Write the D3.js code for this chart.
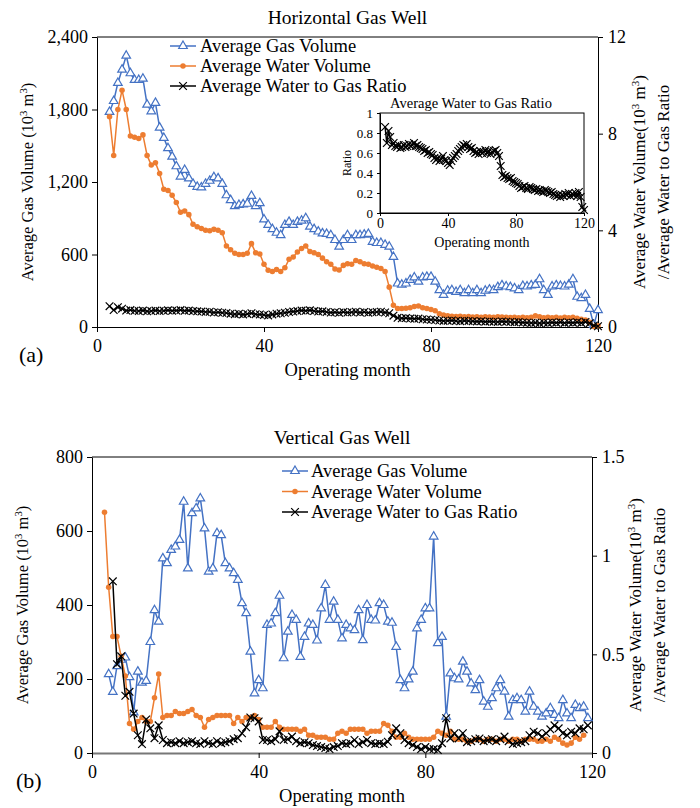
<!DOCTYPE html>
<html>
<head>
<meta charset="utf-8">
<script src="https://cdn.jsdelivr.net/npm/d3@7"></script>
<style>
  body { margin: 0; background: #fff; }
  svg text { font-family: "Liberation Serif", "Times New Roman", serif; fill: #000; }
</style>
</head>
<body>
<div id="chart"></div>
<script>
// ---- data ----
const xTicks = [0, 40, 80, 120];
const legendLabels = ["Average Gas Volume", "Average Water Volume", "Average Water to Gas Ratio"];

// (a) horizontal well, months 3..120
const hMonths = d3.range(3, 121);
const hGas = [
  1780, 1870, 2020, 2130, 2245, 2100, 2045, 2045, 2055, 1840,
  1785, 1855, 1650, 1565, 1480, 1410, 1330, 1245, 1300, 1230,
  1185, 1160, 1155, 1185, 1210, 1240, 1230, 1185, 1090, 1050,
  1000, 1010, 1015, 1020, 1085, 1000, 1025, 890, 845, 810,
  780, 760, 845, 870, 845, 870, 880, 900, 830, 810,
  790, 775, 770, 760, 720, 665, 720, 760, 720, 760,
  760, 765, 770, 705, 695, 695, 680, 665, 580, 360,
  350, 360, 390, 410, 375, 410, 415, 415, 375, 305,
  265, 300, 305, 290, 305, 280, 305, 280, 305, 280,
  300, 310, 305, 330, 345, 335, 330, 320, 305, 340,
  335, 345, 348, 395, 305, 265, 335, 345, 340, 335,
  350, 395, 250, 238, 265, 150, 17, 140
];
const hWater = [
  8.7, 7.1, 9.0, 9.8, 9.0, 7.9, 7.85, 7.8, 7.95, 7.1,
  6.7, 6.8, 6.35, 5.7, 5.65, 5.45, 5.15, 4.75, 4.8, 4.65,
  4.25, 4.15, 4.08, 4.0, 3.98, 4.04, 4.0, 3.9, 3.35, 3.2,
  3.05, 3.0, 3.0, 3.05, 3.45, 3.07, 3.02, 2.6, 2.35, 2.3,
  2.38, 2.3, 2.45, 2.8, 2.9, 3.1, 3.25, 3.35, 3.12, 3.07,
  3.0, 2.85, 2.7, 2.6, 2.4, 2.36, 2.55, 2.62, 2.6, 2.75,
  2.7, 2.62, 2.6, 2.52, 2.47, 2.42, 2.3, 1.65, 0.9, 0.77,
  0.77, 0.78, 0.8, 0.85, 0.87, 0.8, 0.77, 0.72, 0.67, 0.55,
  0.5, 0.46, 0.44, 0.43, 0.44, 0.42, 0.43, 0.41, 0.42, 0.4,
  0.42, 0.41, 0.4, 0.42, 0.41, 0.4, 0.39, 0.4, 0.38, 0.4,
  0.38, 0.4, 0.46, 0.42, 0.38, 0.4, 0.38, 0.4, 0.37, 0.4,
  0.38, 0.4, 0.36, 0.32, 0.29, 0.2, 0.02, 0.05
];
const hRatio = [
  0.86, 0.70, 0.82, 0.76, 0.68, 0.70, 0.67, 0.66, 0.68, 0.65,
  0.66, 0.68, 0.66, 0.67, 0.69, 0.67, 0.68, 0.70, 0.67, 0.68,
  0.66, 0.65, 0.64, 0.62, 0.63, 0.60, 0.61, 0.59, 0.58, 0.55,
  0.53, 0.55, 0.52, 0.54, 0.57, 0.53, 0.52, 0.50, 0.48, 0.52,
  0.55, 0.57, 0.59, 0.62, 0.64, 0.66, 0.68, 0.67, 0.69, 0.66,
  0.64, 0.65, 0.62, 0.60, 0.61, 0.59, 0.62, 0.60, 0.61, 0.63,
  0.60, 0.62, 0.59, 0.61, 0.62, 0.63, 0.60, 0.57, 0.47, 0.38,
  0.36, 0.37, 0.35, 0.34, 0.35, 0.32, 0.31, 0.30, 0.29, 0.27,
  0.25, 0.26, 0.27, 0.25, 0.24, 0.26, 0.25, 0.24, 0.23, 0.24,
  0.22, 0.23, 0.22, 0.21, 0.23, 0.22, 0.21, 0.20, 0.21, 0.19,
  0.18, 0.17, 0.18, 0.16, 0.18, 0.17, 0.19, 0.18, 0.20, 0.17,
  0.19, 0.18, 0.20, 0.17, 0.21, 0.16, 0.06, 0.03
];

// (b) vertical well
const vGasMonths = d3.range(4, 120);
const vGas = [
  213, 165, 235, 252, 258, 205, 110, 220, 190, 195,
  300, 386, 355, 526, 513, 549, 558, 576, 679, 499,
  648, 661, 688, 607, 490, 499, 594, 589, 513, 499,
  486, 468, 405, 378, 274, 161, 197, 175, 346, 350,
  378, 425, 256, 328, 373, 360, 260, 314, 350, 346,
  304, 391, 454, 360, 409, 360, 310, 346, 337, 332,
  386, 305, 400, 360, 358, 405, 400, 355, 352, 287,
  197, 175, 199, 220, 337, 360, 391, 391, 585, 297,
  314, 98, 215, 202, 199, 247, 220, 188, 170, 197,
  139, 125, 148, 175, 197, 166, 98, 143, 148, 143,
  112, 166, 125, 112, 98, 107, 121, 103, 94, 143,
  107, 94, 130, 121, 125, 94
];
const vWaterMonths = d3.range(3, 119);
const vWater = [
  1.22, 0.84, 0.59, 0.59, 0.49, 0.39, 0.15, 0.12, 0.16, 0.18,
  0.16, 0.16, 0.28, 0.40, 0.18, 0.19, 0.19, 0.21, 0.20, 0.20,
  0.21, 0.22, 0.19, 0.18, 0.13, 0.17, 0.18, 0.19, 0.19, 0.19,
  0.19, 0.15, 0.18, 0.16, 0.18, 0.18, 0.19, 0.17, 0.13, 0.13,
  0.13, 0.16, 0.13, 0.12, 0.12, 0.12, 0.12, 0.11, 0.12, 0.09,
  0.09, 0.08, 0.08, 0.08, 0.07, 0.07, 0.10, 0.11, 0.10, 0.12,
  0.12, 0.12, 0.12, 0.10, 0.11, 0.11, 0.11, 0.15, 0.14, 0.11,
  0.08, 0.08, 0.10, 0.08, 0.07, 0.07, 0.07, 0.07, 0.07, 0.08,
  0.11, 0.10, 0.09, 0.11, 0.07, 0.07, 0.07, 0.06, 0.06, 0.07,
  0.07, 0.06, 0.07, 0.07, 0.06, 0.07, 0.07, 0.06, 0.07, 0.07,
  0.06, 0.07, 0.07, 0.07, 0.06, 0.06, 0.07, 0.06, 0.08, 0.07,
  0.05, 0.04, 0.05, 0.08, 0.07, 0.09
];
const vRatioMonths = d3.range(5, 120);
const vRatio = [
  0.87, 0.45, 0.49, 0.29, 0.31, 0.20, 0.09, 0.045, 0.17, 0.125,
  0.075, 0.14, 0.066, 0.05, 0.055, 0.05, 0.06, 0.05, 0.055, 0.06,
  0.05, 0.045, 0.06, 0.05, 0.045, 0.06, 0.05, 0.055, 0.06, 0.07,
  0.075, 0.10, 0.13, 0.18, 0.176, 0.16, 0.066, 0.066, 0.06, 0.07,
  0.11, 0.066, 0.07, 0.083, 0.06, 0.05, 0.055, 0.05, 0.04, 0.035,
  0.03, 0.025, 0.02, 0.03, 0.035, 0.05, 0.045, 0.05, 0.066, 0.045,
  0.055, 0.066, 0.05, 0.045, 0.05, 0.045, 0.057, 0.09, 0.125, 0.10,
  0.066, 0.05, 0.04, 0.03, 0.02, 0.03, 0.02, 0.02, 0.015, 0.05,
  0.176, 0.074, 0.10, 0.074, 0.10, 0.055, 0.06, 0.07, 0.074, 0.06,
  0.065, 0.07, 0.06, 0.07, 0.083, 0.06, 0.045, 0.05, 0.055, 0.06,
  0.09, 0.108, 0.10, 0.083, 0.10, 0.12, 0.14, 0.125, 0.10, 0.09,
  0.108, 0.10, 0.125, 0.12, 0.14
];

// ---- styles ----
const BLUE = "#4472C4", ORANGE = "#ED7D31";
const styles = {
  gas:   { color: BLUE,   width: 1.5, symbol: d3.symbol(d3.symbolTriangle, 32)(), fill: "#fff", stroke: BLUE },
  water: { color: ORANGE, width: 1.5, symbol: d3.symbol(d3.symbolCircle, 24)(),   fill: ORANGE, stroke: "none" },
  ratio: { color: "#000", width: 1.5, symbol: d3.symbol(d3.symbolX, 40)(),       fill: "none", stroke: "#000" }
};
const kinds = ["gas", "water", "ratio"];

const svg = d3.select("#chart").append("svg").attr("width", 700).attr("height", 808);

function styleAxis(sel, size) {
  sel.attr("font-family", null).attr("font-size", null);
  sel.selectAll("text").style("font-size", size + "px");
  sel.selectAll("line").attr("stroke", "#000");
  sel.select(".domain").attr("stroke", "#000");
}

function drawSeries(g, months, values, x, y, kind) {
  const st = styles[kind];
  const pts = months.map((m, i) => [m, values[i]]);
  g.append("path").datum(pts)
    .attr("d", d3.line().x(d => x(d[0])).y(d => y(d[1])))
    .attr("fill", "none").attr("stroke", st.color).attr("stroke-width", st.width);
  g.append("g").selectAll("path").data(pts).join("path")
    .attr("transform", d => `translate(${x(d[0])},${y(d[1])})`)
    .attr("d", st.symbol)
    .attr("fill", st.fill).attr("stroke", st.stroke).attr("stroke-width", 1.2);
}

function drawLegend(g, lx, ly, gap, tx) {
  kinds.forEach((k, i) => {
    const st = styles[k], yy = ly + i * gap;
    g.append("line").attr("x1", lx).attr("x2", lx + 26).attr("y1", yy).attr("y2", yy)
      .attr("stroke", st.color).attr("stroke-width", st.width);
    g.append("path").attr("transform", `translate(${lx + 13},${yy})`).attr("d", st.symbol)
      .attr("fill", st.fill).attr("stroke", st.stroke).attr("stroke-width", 1.2);
    g.append("text").attr("x", tx).attr("y", yy).attr("dy", "0.33em")
      .style("font-size", "18.5px").text(legendLabels[i]);
  });
}

function volumeLabel(g, text, x, y, size) {
  const t = g.append("text").attr("transform", `translate(${x},${y}) rotate(-90)`)
    .attr("text-anchor", "middle").style("font-size", size + "px");
  t.append("tspan").text(text + "(10");
  t.append("tspan").attr("dy", -6).style("font-size", (size * 0.65) + "px").text("3");
  t.append("tspan").attr("dy", 6).text(" m");
  t.append("tspan").attr("dy", -6).style("font-size", (size * 0.65) + "px").text("3");
  t.append("tspan").attr("dy", 6).text(")");
}

function drawPanel(p) {
  const g = svg.append("g");
  const x = d3.scaleLinear().domain([0, 120]).range([p.left, p.right]);
  const yL = d3.scaleLinear().domain([0, p.leftMax]).range([p.bottom, p.top]);
  const yR = d3.scaleLinear().domain([0, p.rightMax]).range([p.bottom, p.top]);

  g.append("line").attr("x1", p.left).attr("x2", p.right).attr("y1", p.top).attr("y2", p.top).attr("stroke", "#000");

  g.append("g").attr("transform", `translate(0,${p.bottom})`)
    .call(d3.axisBottom(x).tickValues(xTicks).tickSize(5).tickSizeOuter(0).tickPadding(7))
    .call(styleAxis, 18)
    .call(a => a.select(".domain").attr("stroke", p.xAxisColor).attr("stroke-width", p.xAxisWidth));
  g.append("g").attr("transform", `translate(${p.left},0)`)
    .call(d3.axisLeft(yL).tickValues(p.leftTicks).tickFormat(p.leftFormat).tickSize(5).tickSizeOuter(0).tickPadding(4))
    .call(styleAxis, 18);
  g.append("g").attr("transform", `translate(${p.right},0)`)
    .call(d3.axisRight(yR).tickValues(p.rightTicks).tickFormat(d3.format("~g")).tickSize(5).tickSizeOuter(0).tickPadding(5))
    .call(styleAxis, 18);

  drawSeries(g, p.gasMonths, p.gas, x, yL, "gas");
  drawSeries(g, p.waterMonths, p.water, x, yR, "water");
  drawSeries(g, p.ratioMonths, p.ratio, x, yR, "ratio");

  const cx = (p.left + p.right) / 2;
  g.append("text").attr("x", cx).attr("y", p.top - 13).attr("text-anchor", "middle")
    .style("font-size", "19.5px").text(p.title);
  g.append("text").attr("x", cx).attr("y", p.bottom + 49).attr("text-anchor", "middle")
    .style("font-size", "18.5px").text("Operating month");
  g.append("text").attr("x", p.tagX).attr("y", p.bottom + 35)
    .style("font-size", "22px").text(p.tag);

  const cy = (p.top + p.bottom) / 2;
  volumeLabel(g, "Average Gas Volume ", p.leftLabelX, cy, 16.5);
  volumeLabel(g, "Average Water Volume", p.rightLabelX, cy, 17);
  g.append("text").attr("transform", `translate(${p.rightLabelX + 24},${cy}) rotate(-90)`)
    .attr("text-anchor", "middle").style("font-size", "17px").text("/Average Water to Gas Ratio");

  drawLegend(g, p.legend[0], p.legend[1], p.legend[2], p.legend[3]);
  return g;
}

// (a)
const panelA = drawPanel({
  left: 97, right: 598, top: 37, bottom: 327,
  leftMax: 2400, leftTicks: [0, 600, 1200, 1800, 2400], leftFormat: d3.format(","),
  rightMax: 12, rightTicks: [0, 4, 8, 12],
  gasMonths: hMonths, gas: hGas, waterMonths: hMonths, water: hWater, ratioMonths: hMonths, ratio: hRatio,
  title: "Horizontal Gas Well", tag: "(a)", tagX: 19,
  leftLabelX: 33, rightLabelX: 645, xAxisColor: "#000", xAxisWidth: 1,
  legend: [170, 46, 20, 200]
});

// inset in (a)
const ix = d3.scaleLinear().domain([0, 120]).range([380, 584]);
const iy = d3.scaleLinear().domain([0, 1]).range([213, 113]);
const inset = panelA.append("g");
inset.append("rect").attr("x", 380).attr("y", 113).attr("width", 204).attr("height", 100)
  .attr("fill", "#fff").attr("stroke", "#000").attr("stroke-width", 1);
inset.append("g").attr("transform", "translate(0,213)")
  .call(d3.axisBottom(ix).tickValues(xTicks).tickSize(3).tickSizeOuter(0).tickPadding(2))
  .call(styleAxis, 14);
inset.append("g").attr("transform", "translate(380,0)")
  .call(d3.axisLeft(iy).tickValues([0, 0.2, 0.4, 0.6, 0.8, 1]).tickFormat(d3.format("~g")).tickSize(3).tickSizeOuter(0).tickPadding(4))
  .call(styleAxis, 13);
drawSeries(inset, hMonths, hRatio, ix, iy, "ratio");
inset.append("text").attr("x", 471).attr("y", 108).attr("text-anchor", "middle")
  .style("font-size", "14.5px").text("Average Water to Gas Ratio");
inset.append("text").attr("x", 482).attr("y", 247).attr("text-anchor", "middle")
  .style("font-size", "14px").text("Operating month");
inset.append("text").attr("transform", "translate(351,163) rotate(-90)").attr("text-anchor", "middle")
  .style("font-size", "12px").text("Ratio");

// (b)
drawPanel({
  left: 92, right: 592, top: 457, bottom: 753,
  leftMax: 800, leftTicks: [0, 200, 400, 600, 800], leftFormat: d3.format("d"),
  rightMax: 1.5, rightTicks: [0, 0.5, 1, 1.5],
  gasMonths: vGasMonths, gas: vGas, waterMonths: vWaterMonths, water: vWater, ratioMonths: vRatioMonths, ratio: vRatio,
  title: "Vertical Gas Well", tag: "(b)", tagX: 16,
  leftLabelX: 28, rightLabelX: 641, xAxisColor: "#777", xAxisWidth: 2,
  legend: [282, 471, 20.5, 311]
});
</script>
</body>
</html>
